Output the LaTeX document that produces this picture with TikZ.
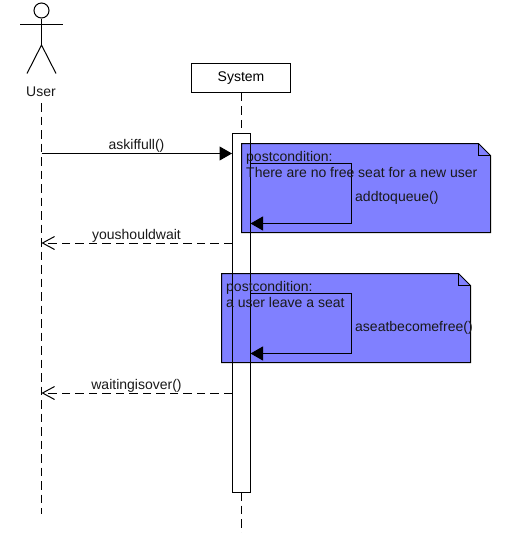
\documentclass[tikz,border=0pt]{standalone}
\usepackage{fontspec}
\setmainfont{Liberation Sans}
\usetikzlibrary{arrows.meta,calc}
\definecolor{notefill}{HTML}{8080FF}
\tikzset{
  x=1pt,y=-1pt,
  every node/.style={font=\fontsize{14}{16}\selectfont,inner sep=0pt,text=black!90},
  line/.style={draw=black,line width=1pt},
  life/.style={line,dash pattern=on 8.5pt off 5pt},
  headbox/.style={line,fill=white,minimum width=99pt,minimum height=28.5pt,text=black},
  actbox/.style={line,fill=white},
  actedge/.style={line},
  sync/.style={line,-{Triangle[length=12.5pt,width=14pt]}},
  reply/.style={line,dash pattern=on 8.5pt off 5pt,-{Straight Barb[length=12pt,width=13pt]}},
  notebody/.style={line,fill=notefill,line join=miter},
  txt/.style={anchor=base west},
  msg/.style={anchor=base},
}
\begin{document}
\begin{tikzpicture}
\useasboundingbox (0,0) rectangle (507,533);
% Actor
\node[line,circle,minimum size=15pt,fill=white] (head) at (41.5,10.5) {};
\coordinate (neck) at (41.5,18);
\coordinate (hip) at (41.5,45);
\coordinate (armL) at (20,24.5);
\coordinate (armR) at (62.5,24.5);
\coordinate (legL) at (27,73.5);
\coordinate (legR) at (56,73.5);
\draw[line] (head.south) -- (hip);
\draw[line] (armL) -- (armR);
\draw[line] (legL) -- (hip) -- (legR);
\node[msg] (user) at (41,96) {User};
% User lifeline
\coordinate (uTop) at (41.5,103);
\coordinate (uBot) at (41.5,514);
\draw[life] (uTop) -- (uBot);
% System
\node[headbox] (sys) at (241,78) {System};
\coordinate (sysAct) at (241,133);
\coordinate (sysEnd) at (241,492);
\coordinate (sysBot) at (241,533);
\draw[life] (sys.south) -- (sysAct);
\draw[life] (sysEnd) -- (sysBot);
% Activation
\coordinate (actTL) at (232,133.5);
\coordinate (actBR) at (250.5,492);
\draw[actbox] (actTL) rectangle (actBR);
% Note 1
\coordinate (n1) at (241.5,143.5);
\draw[notebody] (n1) -- ++(237,0) -- ++(12,12) -- ++(0,77) -- ++(-249,0) -- cycle;
\draw[line] (478.5,143.5) -- (478.5,155.5) -- (490.5,155.5);
% Note 2
\coordinate (n2) at (221.5,273.5);
\draw[notebody] (n2) -- ++(237,0) -- ++(12,12) -- ++(0,77) -- ++(-249,0) -- cycle;
\draw[line] (458.5,273.5) -- (458.5,285.5) -- (470.5,285.5);
% Activation edges visible over notes
\draw[actedge] (actTL) -- (232,492);
\draw[actedge] (250.5,133.5) -- (actBR);
% Self messages
\coordinate (s1a) at (250.5,163.5);
\coordinate (s1b) at (351.5,163.5);
\coordinate (s1c) at (351.5,223.5);
\coordinate (s1d) at (250.5,223.5);
\draw[sync] (s1a) -- (s1b) -- (s1c) -- (s1d);
\coordinate (s2a) at (250.5,293.5);
\coordinate (s2b) at (351.5,293.5);
\coordinate (s2c) at (351.5,353.5);
\coordinate (s2d) at (250.5,353.5);
\draw[sync] (s2a) -- (s2b) -- (s2c) -- (s2d);
% Messages
\coordinate (m1a) at (41.5,153.5);
\coordinate (m1b) at (232,153.5);
\draw[sync] (m1a) -- (m1b);
\coordinate (m2a) at (232,243);
\coordinate (m2b) at (41.5,243);
\draw[reply] (m2a) -- (m2b);
\coordinate (m3a) at (232,393);
\coordinate (m3b) at (41.5,393);
\draw[reply] (m3a) -- (m3b);
% Labels
\node[msg] (l1) at (136.5,149) {askiffull()};
\node[msg] (l2) at (136.5,239) {youshouldwait};
\node[msg] (l3) at (136.5,389) {waitingisover()};
\node[txt] (t1) at (246,161) {postcondition:};
\node[txt] (t2) at (246,177) {There are no free seat for a new user};
\node[txt] (t3) at (355,201) {addtoqueue()};
\node[txt] (t4) at (226,291) {postcondition:};
\node[txt] (t5) at (226,307) {a user leave a seat};
\node[txt] (t6) at (355,331) {aseatbecomefree()};
\end{tikzpicture}
\end{document}
